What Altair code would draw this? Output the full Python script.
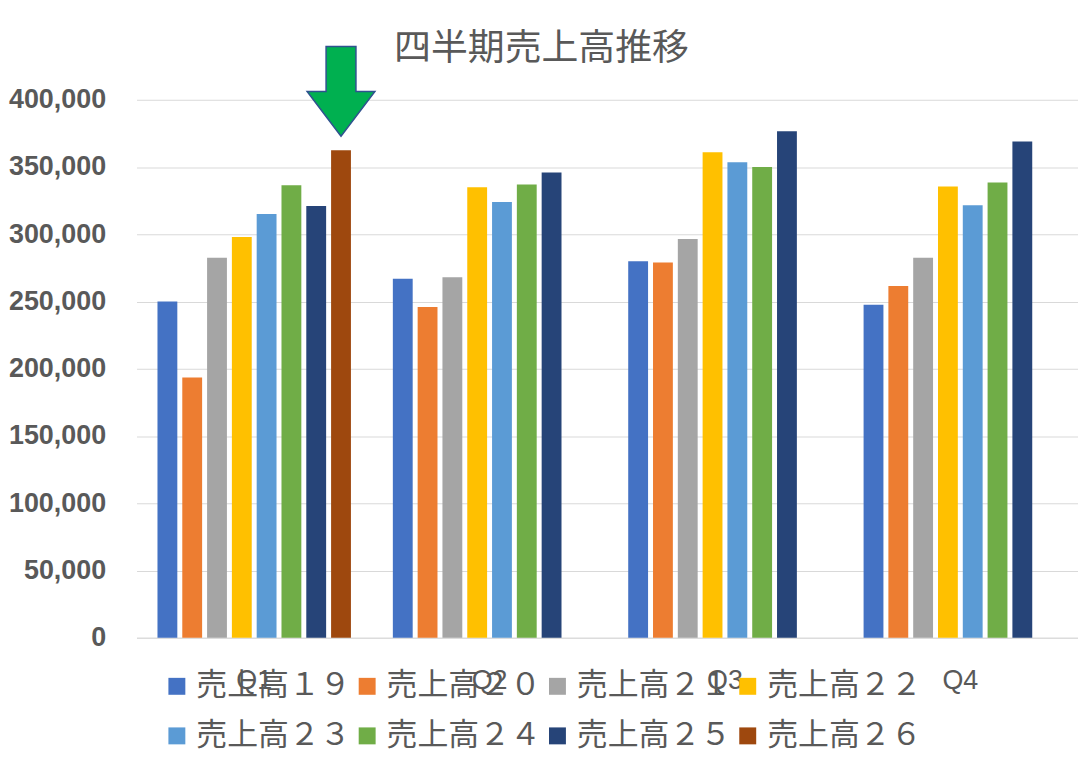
import altair as alt
import pandas as pd

quarters = ["Q1", "Q2", "Q3", "Q4"]
series = ["売上高１９", "売上高２０", "売上高２１", "売上高２２",
          "売上高２３", "売上高２４", "売上高２５", "売上高２６"]
colors = ["#4472C4", "#ED7D31", "#A5A5A5", "#FFC000",
          "#5B9BD5", "#70AD47", "#264478", "#9E480E"]

sales_19 = [250000, 267000, 280000, 247500]
sales_20 = [193500, 246000, 279000, 261500]
sales_21 = [282500, 268000, 296500, 282500]
sales_22 = [298000, 335000, 361000, 335500]
sales_23 = [315000, 324000, 353500, 321500]
sales_24 = [336500, 337000, 350000, 338500]
sales_25 = [321000, 346000, 376500, 369000]
sales_26 = [362500, None, None, None]

highlight_quarter = "Q1"
highlight_series = "売上高２６"

all_values = [sales_19, sales_20, sales_21, sales_22,
              sales_23, sales_24, sales_25, sales_26]
rows = []
for s, vals in zip(series, all_values):
    for q, v in zip(quarters, vals):
        if v is not None:
            rows.append({"quarter": q, "series": s, "sales": v})
df = pd.DataFrame(rows)

GRAY = "#595959"
GRID = "#D9D9D9"
ARROW = "M -0.333 -1 L 0.333 -1 L 0.333 0 L 0.756 0 L 0 1 L -0.756 0 L -0.333 0 Z"

x_enc = alt.X("quarter:N", sort=quarters,
              scale=alt.Scale(paddingInner=0, paddingOuter=0),
              axis=alt.Axis(title=None, labelAngle=0, ticks=False, domain=True,
                            domainColor=GRID, domainWidth=1, grid=False,
                            labelFont="Liberation Sans", labelFontSize=27,
                            labelColor=GRAY, labelPadding=30))
xo_enc = alt.XOffset("series:N",
                     scale=alt.Scale(domain=series, paddingInner=0.2, paddingOuter=0.845))
y_enc = alt.Y("sales:Q",
              scale=alt.Scale(domain=[0, 400000], nice=False),
              axis=alt.Axis(title=None, values=list(range(0, 400001, 50000)), format=",d",
                            domain=False, ticks=False, grid=True, gridColor=GRID,
                            gridWidth=1, labelFont="Liberation Sans", labelFontSize=27,
                            labelFontWeight="bold", labelColor=GRAY, labelPadding=31))

bars = alt.Chart(df).mark_bar().encode(
    x=x_enc,
    xOffset=xo_enc,
    y=y_enc,
    color=alt.Color("series:N",
                    scale=alt.Scale(domain=series, range=colors),
                    legend=alt.Legend(title=None, orient="none", legendX=25, legendY=573,
                                      direction="horizontal", columns=4,
                                      symbolType="square", symbolSize=289,
                                      symbolStrokeWidth=0, labelFont="Noto Sans CJK JP",
                                      labelFontSize=31, labelColor=GRAY, labelOffset=4,
                                      columnPadding=1, rowPadding=18, labelLimit=0,
                                      padding=0)),
)

arrow = alt.Chart(df).transform_filter(
    (alt.datum.quarter == highlight_quarter) & (alt.datum.series == highlight_series)
).mark_point(shape=ARROW, filled=True, fill="#00B050", stroke="#2F528F",
             strokeWidth=1.5, size=8100, opacity=1, yOffset=-59).encode(
    x=alt.X("quarter:N", sort=quarters),
    xOffset=alt.XOffset("series:N"),
    y=alt.Y("sales:Q"),
)

chart = alt.layer(bars, arrow).properties(
    width=945,
    height=540,
    title=alt.TitleParams("四半期売上高推移", font="Noto Sans CJK JP", fontSize=37,
                          fontWeight="normal", color=GRAY, anchor="middle",
                          frame="group", dx=-66, offset=-24),
    autosize=alt.AutoSizeParams(type="none"),
    padding={"left": 129, "top": 90.7, "right": 0, "bottom": 124},
    background="white",
).configure_view(stroke=None)

chart.save("out.html", embed_options={"renderer": "svg", "actions": False})
